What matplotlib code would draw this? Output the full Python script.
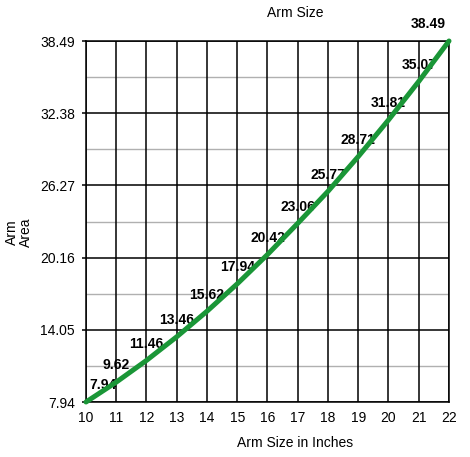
import numpy as np
import matplotlib.pyplot as plt

plt.rcParams['font.family'] = ['Liberation Sans', 'DejaVu Sans']

arm_size = [10, 11, 12, 13, 14, 15, 16, 17, 18, 19, 20, 21, 22]
arm_area = [7.94, 9.62, 11.46, 13.46, 15.62, 17.94, 20.42, 23.06, 25.77, 28.71, 31.81, 35.07, 38.49]
y_ticks = [7.94, 14.05, 20.16, 26.27, 32.38, 38.49]

W, H = 470, 457
fig = plt.figure(figsize=(W / 100, H / 100), dpi=100)
ax = fig.add_axes([86 / W, 1 - 402 / H, (449 - 86) / W, (402 - 41) / H])

ax.set_xlim(arm_size[0], arm_size[-1])
ax.set_ylim(y_ticks[0], y_ticks[-1])
ax.set_xticks(arm_size)
ax.set_yticks(y_ticks)
ax.set_yticklabels([f"{v:.2f}" for v in y_ticks])

# grid: grey half-step lines under the black ones
mids = [(a + b) / 2 for a, b in zip(y_ticks[:-1], y_ticks[1:])]
for m in mids:
    ax.axhline(m, color='#b0b0b0', lw=1.0, zorder=0.5)
for x in arm_size:
    ax.axvline(x, color='black', lw=1.1, zorder=1)
for y in y_ticks:
    ax.axhline(y, color='black', lw=1.1, zorder=1)

for s in ax.spines.values():
    s.set_color('black')
    s.set_linewidth(1.1)

ax.tick_params(axis='y', length=3, width=1.1, labelsize=10, pad=5)
ax.tick_params(axis='x', length=0, labelsize=10, pad=6.5)

ax.plot(arm_size, arm_area, color='#1a9637', lw=3.6, solid_capstyle='round', zorder=5, clip_on=False)

x0, x1 = arm_size[0], arm_size[-1]
for x, y in zip(arm_size, arm_area):
    ha = 'center'
    xx = x
    if x == x0:
        ha = 'left'
        xx = x + 0.1
    elif x == x1:
        ha = 'right'
        xx = x - 0.1
    ax.annotate(f"{y:.2f}", (xx, y), xytext=(0, 12), textcoords='offset points',
                ha=ha, va='center', fontsize=10, fontweight='bold', zorder=4,
                annotation_clip=False)

fig.text(295 / W, 1 - 13 / H, "Arm Size", ha='center', va='center', fontsize=10)
fig.text(295 / W, 1 - 443 / H, "Arm Size in Inches", ha='center', va='center', fontsize=10)
fig.text(19 / W, 1 - 232 / H, "Arm\nArea", ha='center', va='center', rotation=90,
         fontsize=10, linespacing=1.0)

fig.savefig("out.png", dpi=100)
